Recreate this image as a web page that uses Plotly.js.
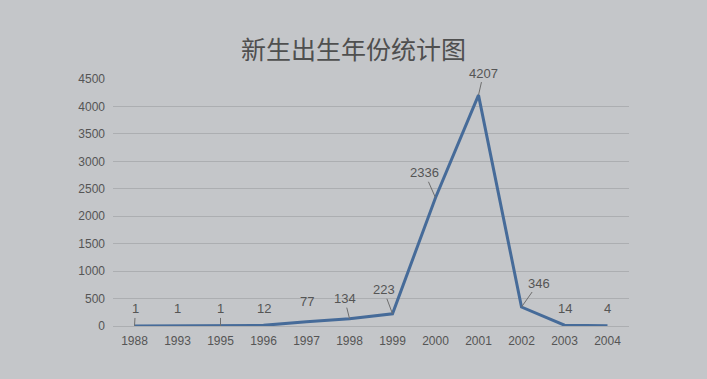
<!DOCTYPE html>
<html>
<head>
<meta charset="utf-8">
<script src="https://cdn.plot.ly/plotly-3.0.1.min.js"></script>
<style>
html,body{margin:0;padding:0;background:#c4c6c9;}
#chart{width:707px;height:379px;}
</style>
</head>
<body>
<div id="chart"></div>
<script>
const years = ['1988','1993','1995','1996','1997','1998','1999','2000','2001','2002','2003','2004'];
const counts = [1, 1, 1, 12, 77, 134, 223, 2336, 4207, 346, 14, 4];
const yTicks = [0, 500, 1000, 1500, 2000, 2500, 3000, 3500, 4000, 4500];

// label placement (pixel offsets from the point) and whether a leader line is drawn
const labelDx = [1, 0, 0, 0, 0, -5, -9, -11, 5, 17, 0, 0];
const labelDy = [-17, -17, -17, -17, -20, -20, -24, -25, -22, -24, -17, -17];
const labelLead = [true, false, true, false, false, true, true, true, true, true, false, false];

const FAMILY = '"Liberation Sans Narrow", "Liberation Sans", Arial, sans-serif';
function numFont(size) { return {family: FAMILY, size: size, color: '#555555'}; }

const annotations = [];
for (let i = 0; i < years.length; i++) {
  const a = {
    x: i, y: counts[i], xref: 'x', yref: 'y',
    text: String(counts[i]), font: numFont(13)
  };
  if (labelLead[i]) {
    a.showarrow = true; a.arrowhead = 0; a.arrowwidth = 1; a.arrowcolor = '#6e6e6e';
    a.ax = labelDx[i]; a.ay = labelDy[i]; a.axref = 'pixel'; a.ayref = 'pixel';
  } else {
    a.showarrow = false; a.xshift = labelDx[i]; a.yshift = -labelDy[i];
  }
  annotations.push(a);
}

const trace = {
  type: 'scatter', mode: 'lines', x: years, y: counts,
  line: {color: '#466b99', width: 3},
  hoverinfo: 'x+y'
};

const layout = {
  width: 707, height: 379,
  paper_bgcolor: '#c4c6c9', plot_bgcolor: '#c4c6c9',
  margin: {l: 113, r: 78, t: 79, b: 53},
  title: {
    text: '新生出生年份统计图', xref: 'container', x: 0.5, xanchor: 'center',
    y: 1 - 50/379, yref: 'container', yanchor: 'middle',
    font: {family: '"Noto Sans CJK SC", sans-serif', size: 25, color: '#4f4f4f'}
  },
  showlegend: false,
  xaxis: {
    type: 'category', range: [-0.5, 11.5], showgrid: false, zeroline: false,
    showline: false, ticks: '', tickfont: numFont(12), tickangle: 0,
    ticklabelstandoff: 6
  },
  yaxis: {
    range: [0, 4500], tickvals: yTicks, ticktext: yTicks.map(String),
    showgrid: true, gridcolor: '#acaeb1', gridwidth: 1,
    zeroline: true, zerolinecolor: '#acaeb1', zerolinewidth: 1,
    showline: false, ticks: '', tickfont: numFont(12),
    ticklabelstandoff: 7
  },
  annotations: annotations
};

Plotly.newPlot('chart', [trace], layout, {displayModeBar: false});
</script>
</body>
</html>
